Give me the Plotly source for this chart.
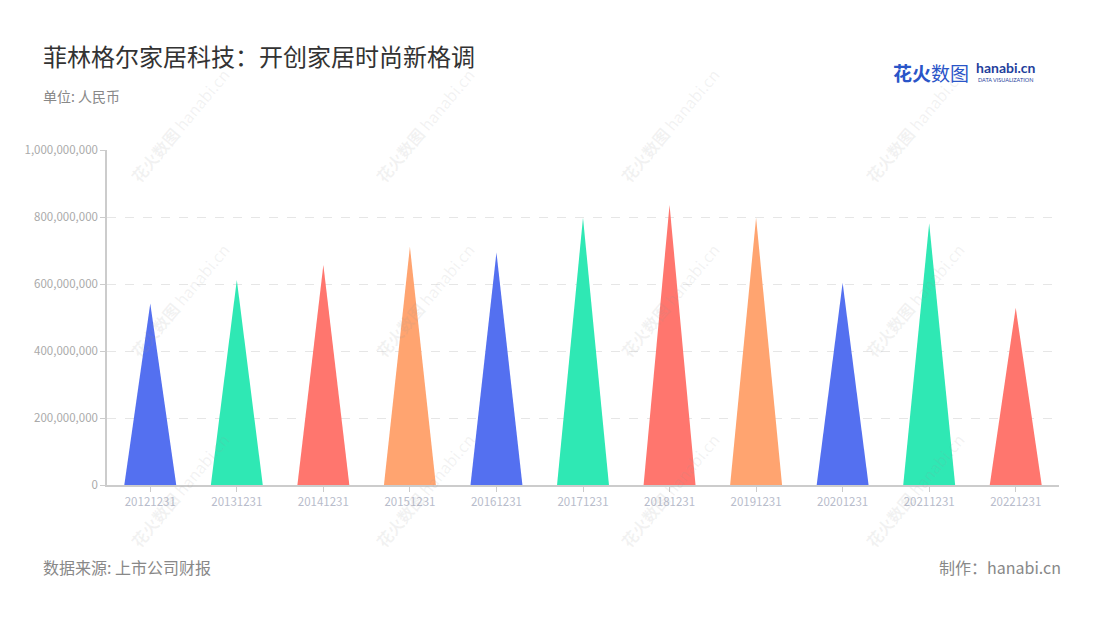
import plotly.graph_objects as go

# ---- data ----
categories = ["20121231", "20131231", "20141231", "20151231", "20161231", "20171231",
              "20181231", "20191231", "20201231", "20211231", "20221231"]
values = [542e6, 612e6, 657e6, 711e6, 694e6, 798e6, 836e6, 798e6, 604e6, 781e6, 529e6]
palette = ["#5470F0", "#2FE8B4", "#FF766E", "#FFA470"]
y_ticks = [0, 200e6, 400e6, 600e6, 800e6, 1000e6]

FONT = "Noto Sans CJK SC, Noto Sans, sans-serif"
half_w = 0.3

W, H = 1100, 620
L, R, T, B = 107, 41, 150, 135
PW, PH = W - L - R, H - T - B


def px(x):
    return (x - L) / PW


def py(y):
    return (H - B - y) / PH


fig = go.Figure()
for i, (cat, v) in enumerate(zip(categories, values)):
    fig.add_trace(go.Scatter(
        x=[i - half_w, i, i + half_w, i - half_w],
        y=[0, v, 0, 0],
        mode="lines", fill="toself",
        fillcolor=palette[i % len(palette)],
        line=dict(width=0, color=palette[i % len(palette)]),
        hoverinfo="text", text=f"{cat}: {v:,.0f}",
        showlegend=False,
    ))

fig.update_layout(
    width=W, height=H,
    margin=dict(l=L, r=R, t=T, b=B),
    paper_bgcolor="white", plot_bgcolor="white",
    font=dict(family=FONT, color="#333"),
    xaxis=dict(
        range=[-0.5, len(categories) - 0.5],
        tickmode="array", tickvals=list(range(len(categories))), ticktext=categories,
        showgrid=False, zeroline=False,
        showline=True, linecolor="#cccccc", linewidth=1.5,
        ticks="outside", ticklen=5, tickcolor="#cccccc",
        tickfont=dict(size=11.5, color="#b8bccb", family=FONT),
        fixedrange=True,
    ),
    yaxis=dict(
        range=[0, 1e9],
        tickmode="array", tickvals=y_ticks, tickformat=",d",
        showgrid=True, gridcolor="#e6e6e6", griddash="dash", gridwidth=1,
        zeroline=False,
        showline=True, linecolor="#cccccc", linewidth=1.5,
        ticks="outside", ticklen=5, tickcolor="#cccccc",
        tickfont=dict(size=11.5, color="#aaaaaa", family=FONT),
        fixedrange=True,
    ),
)

# watermarks
wm_x = [180, 425, 670, 915]
wm_y = [125, 300, 490]
for wx in wm_x:
    for wy in wm_y:
        fig.add_annotation(
            x=px(wx), y=py(wy), xref="paper", yref="paper",
            text="<b>花火数图</b> hanabi.cn", showarrow=False, textangle=-50,
            font=dict(size=16, color="rgba(150,150,150,0.12)", family=FONT),
            xanchor="center", yanchor="middle",
        )

# title & texts
fig.add_annotation(x=px(41), y=py(55), xref="paper", yref="paper",
                   text="菲林格尔家居科技：开创家居时尚新格调", showarrow=False,
                   xanchor="left", yanchor="middle",
                   font=dict(size=24, color="#333333", family=FONT))
fig.add_annotation(x=px(41), y=py(96), xref="paper", yref="paper",
                   text="单位: 人民币", showarrow=False,
                   xanchor="left", yanchor="middle",
                   font=dict(size=14, color="#888888", family=FONT))
fig.add_annotation(x=px(41), y=py(567), xref="paper", yref="paper",
                   text="数据来源: 上市公司财报", showarrow=False,
                   xanchor="left", yanchor="middle",
                   font=dict(size=16, color="#888888", family=FONT))
fig.add_annotation(x=px(1063), y=py(567), xref="paper", yref="paper",
                   text="制作：hanabi.cn", showarrow=False,
                   xanchor="right", yanchor="middle",
                   font=dict(size=16, color="#888888", family=FONT))

# logo
fig.add_annotation(x=px(891), y=py(72), xref="paper", yref="paper",
                   text="<b>花火</b>数图", showarrow=False,
                   xanchor="left", yanchor="middle",
                   font=dict(size=19, color="#2a55c8", family=FONT))
fig.add_annotation(x=px(974), y=py(68), xref="paper", yref="paper",
                   text="<b>hanabi.cn</b>", showarrow=False,
                   xanchor="left", yanchor="middle",
                   font=dict(size=14, color="#1f3f9c", family="Lato, sans-serif"))
fig.add_annotation(x=px(976), y=py(80), xref="paper", yref="paper",
                   text="DATA VISUALIZATION", showarrow=False,
                   xanchor="left", yanchor="middle",
                   font=dict(size=5.5, color="#1f3f9c", family="Lato, sans-serif"))

fig.write_html("out.html", config={"displayModeBar": False},
               post_script="document.body.style.margin='0';")
